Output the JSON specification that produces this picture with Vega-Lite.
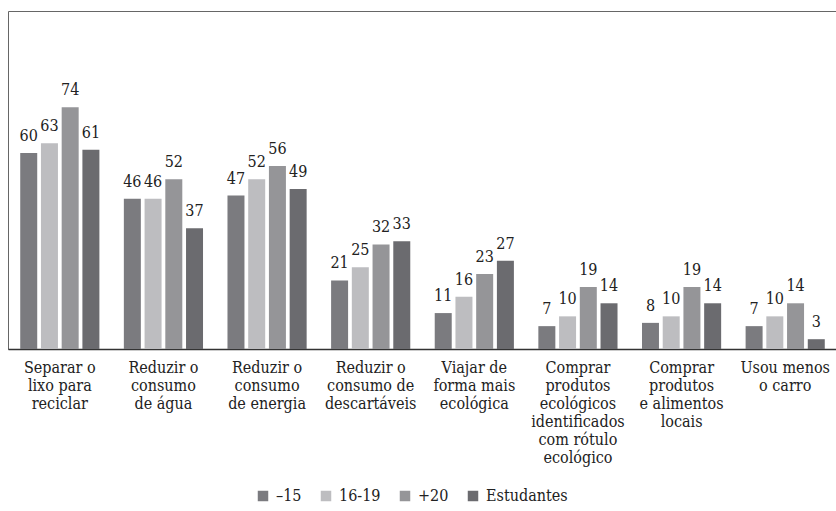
{
  "$schema": "https://vega.github.io/schema/vega-lite/v6.json",
  "autosize": {"type": "none"},
  "padding": {"left": 8, "top": 11, "right": 0, "bottom": 162},
  "width": 829,
  "height": 338,
  "background": "white",
  "config": {
    "font": "DejaVu Serif Condensed",
    "view": {"stroke": "#666666", "strokeWidth": 1},
    "axis": {"labelFont": "DejaVu Serif Condensed", "labelColor": "#222222"},
    "legend": {"labelFont": "DejaVu Serif Condensed", "labelColor": "#222222"}
  },
  "data": {
    "values": [
      {"cat": "Separar o\nlixo para\nreciclar", "grupo": "–15", "valor": 60},
      {"cat": "Separar o\nlixo para\nreciclar", "grupo": "16-19", "valor": 63},
      {"cat": "Separar o\nlixo para\nreciclar", "grupo": "+20", "valor": 74},
      {"cat": "Separar o\nlixo para\nreciclar", "grupo": "Estudantes", "valor": 61},
      {"cat": "Reduzir o\nconsumo\nde água", "grupo": "–15", "valor": 46},
      {"cat": "Reduzir o\nconsumo\nde água", "grupo": "16-19", "valor": 46},
      {"cat": "Reduzir o\nconsumo\nde água", "grupo": "+20", "valor": 52},
      {"cat": "Reduzir o\nconsumo\nde água", "grupo": "Estudantes", "valor": 37},
      {"cat": "Reduzir o\nconsumo\nde energia", "grupo": "–15", "valor": 47},
      {"cat": "Reduzir o\nconsumo\nde energia", "grupo": "16-19", "valor": 52},
      {"cat": "Reduzir o\nconsumo\nde energia", "grupo": "+20", "valor": 56},
      {"cat": "Reduzir o\nconsumo\nde energia", "grupo": "Estudantes", "valor": 49},
      {"cat": "Reduzir o\nconsumo de\ndescartáveis", "grupo": "–15", "valor": 21},
      {"cat": "Reduzir o\nconsumo de\ndescartáveis", "grupo": "16-19", "valor": 25},
      {"cat": "Reduzir o\nconsumo de\ndescartáveis", "grupo": "+20", "valor": 32},
      {"cat": "Reduzir o\nconsumo de\ndescartáveis", "grupo": "Estudantes", "valor": 33},
      {"cat": "Viajar de\nforma mais\necológica", "grupo": "–15", "valor": 11},
      {"cat": "Viajar de\nforma mais\necológica", "grupo": "16-19", "valor": 16},
      {"cat": "Viajar de\nforma mais\necológica", "grupo": "+20", "valor": 23},
      {"cat": "Viajar de\nforma mais\necológica", "grupo": "Estudantes", "valor": 27},
      {"cat": "Comprar\nprodutos\necológicos\nidentificados\ncom rótulo\necológico", "grupo": "–15", "valor": 7},
      {"cat": "Comprar\nprodutos\necológicos\nidentificados\ncom rótulo\necológico", "grupo": "16-19", "valor": 10},
      {"cat": "Comprar\nprodutos\necológicos\nidentificados\ncom rótulo\necológico", "grupo": "+20", "valor": 19},
      {"cat": "Comprar\nprodutos\necológicos\nidentificados\ncom rótulo\necológico", "grupo": "Estudantes", "valor": 14},
      {"cat": "Comprar\nprodutos\ne alimentos\nlocais", "grupo": "–15", "valor": 8},
      {"cat": "Comprar\nprodutos\ne alimentos\nlocais", "grupo": "16-19", "valor": 10},
      {"cat": "Comprar\nprodutos\ne alimentos\nlocais", "grupo": "+20", "valor": 19},
      {"cat": "Comprar\nprodutos\ne alimentos\nlocais", "grupo": "Estudantes", "valor": 14},
      {"cat": "Usou menos\no carro", "grupo": "–15", "valor": 7},
      {"cat": "Usou menos\no carro", "grupo": "16-19", "valor": 10},
      {"cat": "Usou menos\no carro", "grupo": "+20", "valor": 14},
      {"cat": "Usou menos\no carro", "grupo": "Estudantes", "valor": 3}
    ]
  },
  "encoding": {
    "x": {
      "field": "cat", "type": "nominal", "sort": null,
      "scale": {"paddingInner": 0.2, "paddingOuter": 0.1},
      "axis": {
        "title": null, "labelAngle": 0, "ticks": false,
        "labelExpr": "split(datum.label, '\\n')",
        "labelFontSize": 16, "labelLineHeight": 18, "labelPadding": 10,
        "labelBaseline": "top", "labelLimit": 0,
        "domainColor": "#333333", "domainWidth": 1.5
      }
    },
    "xOffset": {
      "field": "grupo", "type": "nominal",
      "sort": ["–15", "16-19", "+20", "Estudantes"],
      "scale": {"paddingInner": 0.18, "paddingOuter": 0.09}
    },
    "y": {
      "field": "valor", "type": "quantitative",
      "scale": {"domain": [0, 103.5], "nice": false},
      "axis": null
    }
  },
  "layer": [
    {
      "mark": {"type": "bar"},
      "encoding": {
        "color": {
          "field": "grupo", "type": "nominal",
          "sort": ["–15", "16-19", "+20", "Estudantes"],
          "scale": {"domain": ["–15", "16-19", "+20", "Estudantes"], "range": ["#7b7b7f", "#bdbdc0", "#959598", "#6b6b6f"]},
          "legend": {
            "title": null, "orient": "none", "direction": "horizontal",
            "legendX": 247, "legendY": 477,
            "symbolType": "square", "symbolSize": 110, "symbolStrokeWidth": 0,
            "labelFontSize": 16, "labelOffset": 5, "columnPadding": 16
          }
        }
      }
    },
    {
      "mark": {"type": "text", "baseline": "alphabetic", "dy": -12, "fontSize": 16, "color": "#222222"},
      "encoding": {"text": {"field": "valor", "type": "quantitative"}}
    }
  ]
}
